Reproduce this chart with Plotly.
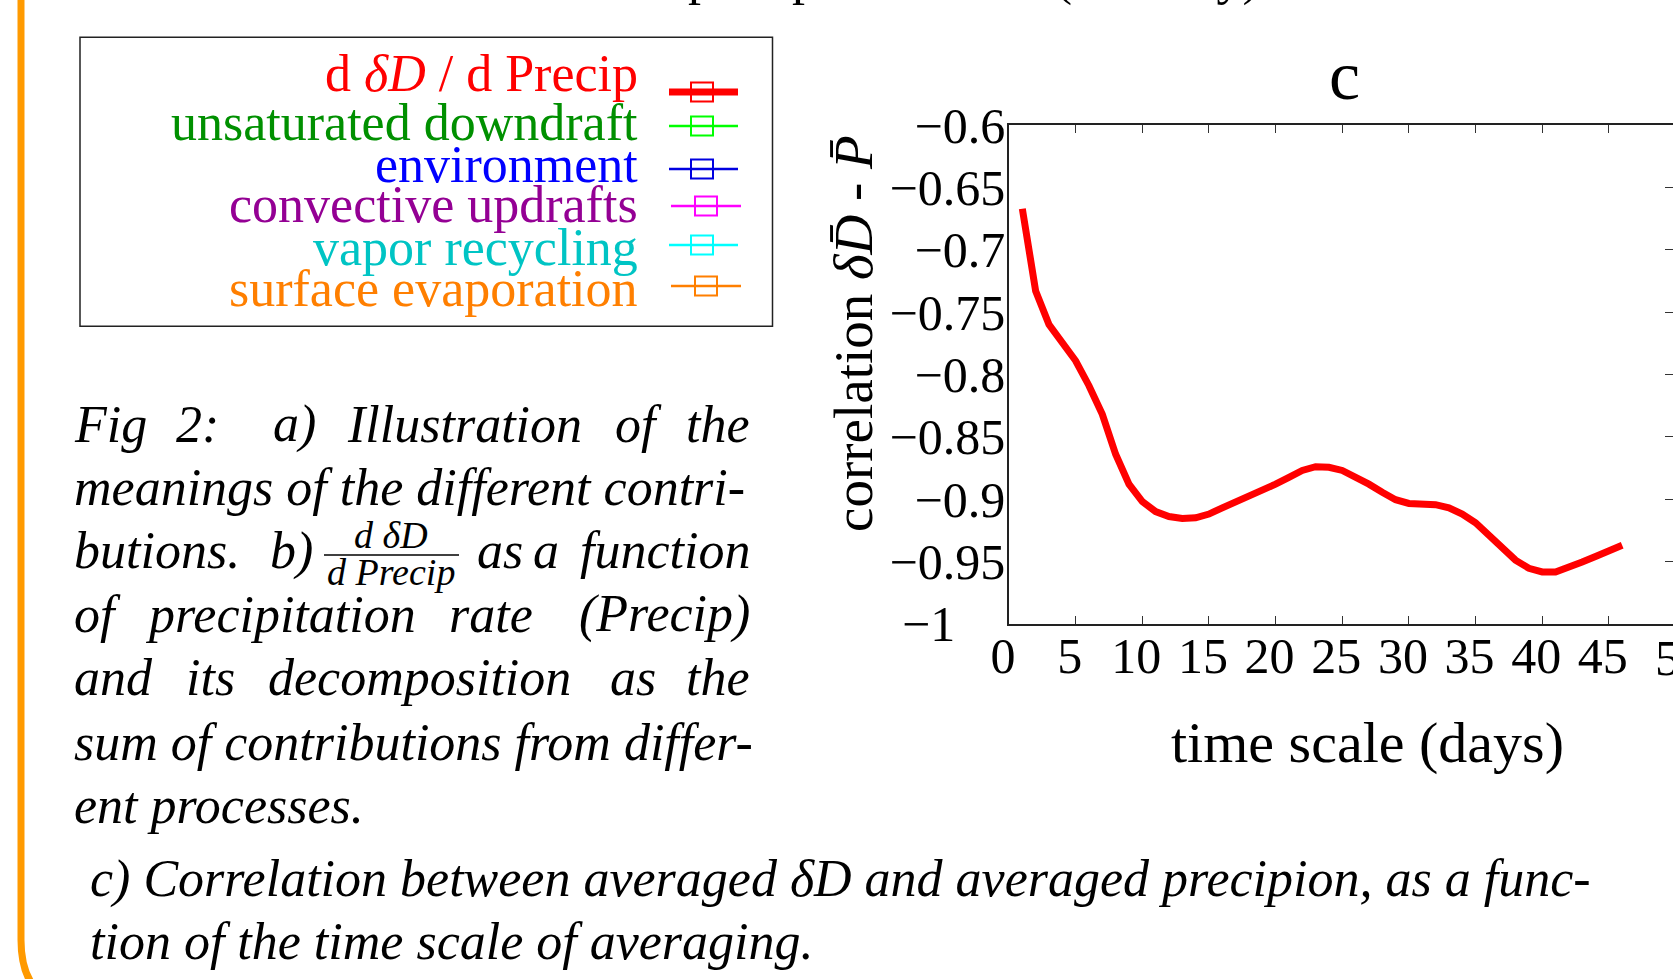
import plotly.graph_objects as go

# ---------------- data ----------------
time_scale_days = list(range(1, 47))
correlation = [
    -0.667, -0.733, -0.760, -0.774, -0.789, -0.809, -0.832, -0.864, -0.888, -0.902,
    -0.910, -0.914, -0.9155, -0.915, -0.912, -0.907, -0.9025, -0.898, -0.893, -0.888,
    -0.8825, -0.877, -0.874, -0.8745, -0.877, -0.882, -0.888, -0.8945, -0.9005, -0.9035,
    -0.904, -0.9045, -0.907, -0.912, -0.919, -0.929, -0.939, -0.949, -0.9555, -0.9585,
    -0.9585, -0.955, -0.9505, -0.946, -0.941, -0.937,
]
x_tick_vals = [0, 5, 10, 15, 20, 25, 30, 35, 40, 45]
y_tick_vals = [-1.0, -0.95, -0.9, -0.85, -0.8, -0.75, -0.7, -0.65, -0.6]
y_tick_text = ["\u22121" + "\u00a0" * 4, "\u22120.95", "\u22120.9", "\u22120.85", "\u22120.8",
               "\u22120.75", "\u22120.7", "\u22120.65", "\u22120.6"]

legend_labels = ["d <i>\u03b4D</i> / d Precip", "unsaturated downdraft", "environment",
                 "convective updrafts", "vapor recycling", "surface evaporation"]
legend_text_colors = ["#ff0000", "#009000", "#0000ff", "#940094", "#00c4c4", "#ff7f00"]
legend_line_colors = ["#ff0000", "#00ff00", "#0000e0", "#ff00ff", "#00ffff", "#ff7f00"]

W, H = 1673, 979
FONT = "Liberation Serif"


def px(x):
    return x / W


def py(y):
    return 1 - y / H


fig = go.Figure()
fig.add_trace(go.Scatter(x=time_scale_days, y=correlation, mode="lines",
                         line=dict(color="#ff0000", width=7), showlegend=False,
                         hoverinfo="skip"))
# empty trace to register the right-hand tick axis
fig.add_trace(go.Scatter(x=[None], y=[None], yaxis="y2", showlegend=False, hoverinfo="skip"))

annotations = []


def ann(text, x, y, size=52, color="black", xanchor="left", yanchor="middle", angle=0):
    annotations.append(dict(text=text, x=px(x), y=py(y), xref="paper", yref="paper",
                            showarrow=False, xanchor=xanchor, yanchor=yanchor,
                            textangle=angle,
                            font=dict(family=FONT, size=size, color=color)))


# clipped text at the very top (from the panel above)
ann("precipitation rate (mm/day)", 686, -23, size=52)

# legend labels
legend_centers = [74, 122.5, 164, 205, 247.5, 288.5]
for lab, col, yc in zip(legend_labels, legend_text_colors, legend_centers):
    ann(lab, 640, yc, color=col, xanchor="right")

# caption (justified look: words placed individually; last word right-aligned)
RIGHT = 752
cap_lines = [
    (424, [("Fig", 74), ("2:", 176), ("a)", 273), ("Illustration", 347), ("of", 615), ("the", None)]),
    (487.5, [("meanings of the different contri-", 74)]),
    (550.5, [("butions.", 74), ("b)", 270), ("as", 477), ("a", 533), ("function", None)]),
    (614, [("of", 74), ("precipitation", 145), ("rate", 449), ("(Precip)", None)]),
    (677.5, [("and", 74), ("its", 186), ("decomposition", 268), ("as", 610), ("the", None)]),
    (742.5, [("sum of contributions from differ-", 74)]),
    (805.5, [("ent processes.", 74)]),
]
for yc, words in cap_lines:
    for w, x in words:
        if x is None:
            ann("<i>" + w + "</i>", RIGHT, yc, xanchor="right")
        else:
            ann("<i>" + w + "</i>", x - 2, yc)

# fraction d(dD)/d Precip
ann("<i>d \u03b4D</i>", 391, 535, size=38, xanchor="center")
ann("<i>d Precip</i>", 391, 572, size=38, xanchor="center")

# bottom caption
ann("<i>c) Correlation between averaged \u03b4D and averaged precipion, as a func-</i>", 88, 879)
ann("<i>tion of the time scale of averaging.</i>", 88, 941)

# chart texts
ann("c", 1344, 75, size=70, xanchor="center")
ann("time scale (days)", 1367, 742, size=58, xanchor="center")
ann("correlation <i>\u03b4D\u0304</i> - <i>P\u0304</i>", 853, 334, size=55,
    xanchor="center", angle=-90)
ann("50", 1680, 658, size=50, xanchor="center")

shapes = []
# orange rounded poster border (left side)
bx = 21
path = (f"M {px(bx)},{py(-10)} L {px(bx)},{py(940)} "
        f"Q {px(bx)},{py(1009)} {px(bx + 69)},{py(1009)} L {px(400)},{py(1009)}")
shapes.append(dict(type="path", path=path, xref="paper", yref="paper",
                   line=dict(color="#ff9a00", width=7)))
# legend box
shapes.append(dict(type="rect", xref="paper", yref="paper", x0=px(80), x1=px(772.5),
                   y0=py(37.3), y1=py(326.3), line=dict(color="#222222", width=1.5)))
sample_y = [92, 126, 169, 206, 245, 286]
sample_x = [(669, 738, 702), (669, 738, 702), (669, 738, 702),
            (671, 741, 706), (669, 738, 702), (671, 741, 706)]
for i, (col, yy, (x0, x1, xc)) in enumerate(zip(legend_line_colors, sample_y, sample_x)):
    lw = 7 if i == 0 else 2.5
    shapes.append(dict(type="line", xref="paper", yref="paper", x0=px(x0), x1=px(x1),
                       y0=py(yy), y1=py(yy), line=dict(color=col, width=lw)))
    shapes.append(dict(type="rect", xref="paper", yref="paper", x0=px(xc - 11), x1=px(xc + 11),
                       y0=py(yy - 9.5), y1=py(yy + 9.5), line=dict(color=col, width=2)))
# fraction bar
shapes.append(dict(type="line", xref="paper", yref="paper", x0=px(324), x1=px(459),
                   y0=py(555), y1=py(555), line=dict(color="black", width=1.5)))

x_end = 50 * (W - 1009) / (1675.5 - 1009)

fig.update_layout(
    template="none",
    width=W, height=H,
    margin=dict(l=0, r=0, t=0, b=0, pad=0, autoexpand=False),
    paper_bgcolor="white", plot_bgcolor="white",
    font=dict(family=FONT, size=50, color="black"),
    showlegend=False,
    xaxis=dict(domain=[px(1009), 1], range=[0, x_end], tickvals=x_tick_vals,
               ticks="inside", ticklen=8, tickwidth=1.2, tickcolor="#333",
               showline=True, linecolor="#222", linewidth=1.5, mirror="ticks",
               showgrid=False, zeroline=False, ticklabelstandoff=-12, ticklabelshift=-6,
               automargin=False, tickfont=dict(family=FONT, size=50)),
    yaxis=dict(domain=[py(623.7), py(125.3)], range=[-1, -0.6], tickvals=y_tick_vals,
               ticktext=y_tick_text, ticks="", showline=True, linecolor="#222",
               linewidth=1.5, showgrid=False, zeroline=False, ticklabelstandoff=-8,
               automargin=False, tickfont=dict(family=FONT, size=50)),
    yaxis2=dict(overlaying="y", side="right", anchor="x", range=[-1, -0.6],
                tickvals=y_tick_vals, ticks="inside", ticklen=8, tickwidth=1.2,
                tickcolor="#333", showticklabels=False, showline=False,
                showgrid=False, zeroline=False, automargin=False),
    annotations=annotations,
    shapes=shapes,
)

fig.write_html("out.html", config={"displayModeBar": False},
               post_script="document.body.style.margin='0';document.body.style.overflow='hidden';")
